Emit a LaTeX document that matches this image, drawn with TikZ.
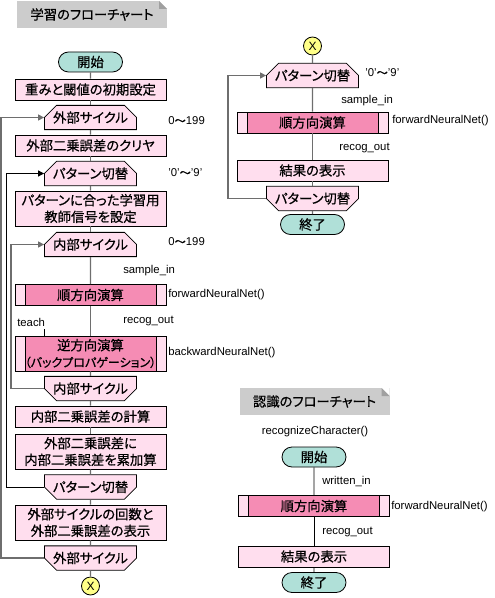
\documentclass[tikz,border=0pt]{standalone}
\usepackage{fontspec}
\setmainfont{Liberation Sans}
\newfontfamily\jp[RawFeature=+palt, FakeBold=0.6]{Noto Sans CJK JP}
\usetikzlibrary{shapes.misc,arrows.meta}

\definecolor{palepk}{RGB}{255,222,238}
\definecolor{hotpk}{RGB}{245,140,180}
\definecolor{termbg}{RGB}{176,224,216}
\definecolor{markbg}{RGB}{255,255,136}
\definecolor{titlebg}{RGB}{204,204,204}
\definecolor{foldbg}{RGB}{160,160,160}
\definecolor{linegray}{RGB}{110,110,110}

\tikzset{
	jptext/.style={font=\jp\fontsize{10}{12.5}\selectfont},
	lbl/.style={font=\fontsize{8.5}{10}\selectfont, inner sep=0pt, anchor=west},
	term/.style={rounded rectangle, draw, line width=0.6pt, fill=termbg, minimum width=48pt, minimum height=15pt, inner sep=0pt, jptext},
	proc/.style={rectangle, draw, line width=0.6pt, fill=palepk, minimum width=113.25pt, minimum height=15.75pt, inner sep=0pt, align=center, jptext},
	predef/.style={proc, fill=hotpk, path picture={
		\fill[palepk] (path picture bounding box.south west) rectangle ([xshift=7.5pt]path picture bounding box.north west);
		\fill[palepk] (path picture bounding box.south east) rectangle ([xshift=-7.5pt]path picture bounding box.north east);
		\draw[line width=0.6pt] ([xshift=7.5pt]path picture bounding box.south west) -- ([xshift=7.5pt]path picture bounding box.north west);
		\draw[line width=0.6pt] ([xshift=-7.5pt]path picture bounding box.south east) -- ([xshift=-7.5pt]path picture bounding box.north east);}},
	loopbox/.style={chamfered rectangle, chamfered rectangle xsep=4.5pt, chamfered rectangle ysep=4.5pt, draw, line width=0.6pt, fill=palepk, minimum width=69pt, minimum height=15.75pt, inner sep=0pt, jptext},
	loopstart/.style={loopbox, chamfered rectangle corners={north west, north east}},
	loopend/.style={loopbox, chamfered rectangle corners={south west, south east}},
	markx/.style={circle, draw, line width=0.6pt, fill=markbg, minimum size=13.5pt, inner sep=0pt, font=\fontsize{9}{10}\selectfont},
	titlebox/.style={rectangle, fill=titlebg, minimum width=112.5pt, minimum height=20.25pt, inner sep=0pt, jptext, path picture={
		\fill[white] ([xshift=-6pt]path picture bounding box.north east) -- (path picture bounding box.north east) -- ([yshift=-6pt]path picture bounding box.north east) -- cycle;
		\fill[foldbg] ([xshift=-6pt]path picture bounding box.north east) -- ([xshift=-6pt,yshift=-6pt]path picture bounding box.north east) -- ([yshift=-6pt]path picture bounding box.north east) -- cycle;}},
	conn/.style={draw=linegray, line width=1pt},
	thinconn/.style={draw=black, line width=0.6pt},
	back/.style={-{Triangle[length=4.5pt, width=4.5pt]}}
}

\begin{document}
\begin{tikzpicture}[x=0.75pt, y=-0.75pt]
	
	\useasboundingbox (0, 0) rectangle (494, 598);
	
	% learning chart
	\node[titlebox] at (92, 14.5) (ltitle) {学習のフローチャート};
	\node[term] at (90.5, 62) (lstart) {開始};
	\node[proc] at (90.5, 89.5) (init) {重みと閾値の初期設定};
	\node[loopstart] at (90.5, 117.5) (ocyc) {外部サイクル};
	\node[proc] at (90.5, 145.5) (oclr) {外部二乗誤差のクリヤ};
	\node[loopstart] at (90.5, 173.5) (pcyc) {パターン切替};
	\node[proc, minimum height=26.25pt] at (90.5, 208.5) (tset) {パターンに合った学習用\\教師信号を設定};
	\node[loopstart] at (90.5, 244.5) (icyc) {内部サイクル};
	\node[predef] at (90.5, 295) (fwd) {順方向演算};
	\node[predef, minimum height=26.25pt] at (90.5, 353.5) (bwd) {逆方向演算\\{\fontsize{9}{11}\selectfont （バックプロパゲーション）}};
	\node[loopend] at (90.5, 388.5) (iend) {内部サイクル};
	\node[proc] at (90.5, 416.5) (ierr) {内部二乗誤差の計算};
	\node[proc, minimum height=26.25pt] at (90.5, 451.5) (oacc) {外部二乗誤差に\\内部二乗誤差を累加算};
	\node[loopend] at (90.5, 487) (pend) {パターン切替};
	\node[proc, minimum height=26.25pt] at (90.5, 522.5) (odisp) {外部サイクルの回数と\\外部二乗誤差の表示};
	\node[loopend] at (90.5, 558) (oend) {外部サイクル};
	\node[markx] at (90.5, 586) (lx) {X};
	
	\node[lbl] at (168, 121) (ocnt) {0{\jp 〜}199};
	\node[lbl] at (168, 173) (pcnt) {'0'{\jp 〜}'9'};
	\node[lbl] at (168, 242) (icnt) {0{\jp 〜}199};
	\node[lbl] at (123, 271) (lsin) {sample\_in};
	\node[lbl] at (168, 295) (lfwdf) {forwardNeuralNet()};
	\node[lbl] at (17, 322) (teach) {teach};
	\node[lbl] at (123, 321) (lrout) {recog\_out};
	\node[lbl] at (168, 353) (bwdf) {backwardNeuralNet()};
	\coordinate (tch) at (44, 329);
	
	\draw[conn] (lstart) to (init);
	\draw[conn] (init) to (ocyc);
	\draw[conn] (ocyc) to (oclr);
	\draw[conn] (oclr) to (pcyc);
	\draw[conn] (pcyc) to (tset);
	\draw[conn] (tset) to (icyc);
	\draw[conn] (icyc) to (fwd);
	\draw[conn] (fwd) to (bwd);
	\draw[conn] (bwd) to (iend);
	\draw[conn] (iend) to (ierr);
	\draw[conn] (ierr) to (oacc);
	\draw[conn] (oacc) to (pend);
	\draw[conn] (pend) to (odisp);
	\draw[conn] (odisp) to (oend);
	\draw[conn] (oend) to (lx);
	\draw[thinconn] (tch) to (tch |- bwd.north);
	
	\draw[conn] [back] (oend.west) -- ++(-43, 0) |- (ocyc.west);
	\draw[thinconn] [back] (pend.west) -- ++(-38, 0) |- (pcyc.west);
	\draw[conn] [back] (iend.west) -- ++(-33, 0) |- (icyc.west);
	
	% loop over patterns
	\node[markx] at (312.5, 46) (rx) {X};
	\node[loopstart] at (312.5, 75.5) (rpcyc) {パターン切替};
	\node[predef] at (312.5, 122.5) (rfwd) {順方向演算};
	\node[proc] at (312.5, 170.5) (rres) {結果の表示};
	\node[loopend] at (312.5, 198.5) (rpend) {パターン切替};
	\node[term] at (312.5, 224.5) (rend) {終了};
	
	\node[lbl] at (365, 73) (rpcnt) {'0'{\jp 〜}'9'};
	\node[lbl] at (341, 101) (rsin) {sample\_in};
	\node[lbl] at (392, 121) (rfwdf) {forwardNeuralNet()};
	\node[lbl] at (339, 148) (rrout) {recog\_out};
	
	\draw[conn] (rx) to (rpcyc);
	\draw[conn] (rpcyc) to (rfwd);
	\draw[conn] (rfwd) to (rres);
	\draw[conn] (rres) to (rpend);
	\draw[conn] (rpend) to (rend);
	\draw[conn] [back] (rpend.west) -- ++(-38, 0) |- (rpcyc.west);
	
	% recognition chart
	\node[titlebox] at (314.5, 401.5) (rtitle) {認識のフローチャート};
	\node[lbl, anchor=center] at (315, 432) (rcfun) {recognizeCharacter()};
	\node[term] at (314, 457) (cstart) {開始};
	\node[predef] at (314, 506) (cfwd) {順方向演算};
	\node[proc] at (314, 556.5) (cres) {結果の表示};
	\node[term] at (314, 582.5) (cend) {終了};
	
	\node[lbl] at (322, 482) (cwin) {written\_in};
	\node[lbl] at (391, 507) (cfwdf) {forwardNeuralNet()};
	\node[lbl] at (322, 532) (crout) {recog\_out};
	
	\draw[thinconn] (cstart) to (cfwd);
	\draw[thinconn] (cfwd) to (cres);
	\draw[thinconn] (cres) to (cend);
	
\end{tikzpicture}
\end{document}
